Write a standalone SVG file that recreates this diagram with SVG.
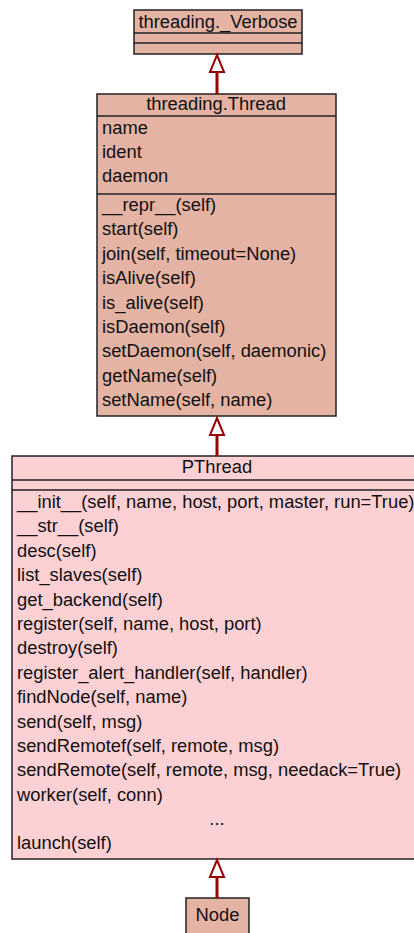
<svg xmlns="http://www.w3.org/2000/svg" width="414" height="933" viewBox="0 0 414 933">
<style>
.box{stroke:#222;stroke-width:1.5}
.a{fill:#e4b3a4}
.b{fill:#fdd0d4}
.div{stroke:#222;stroke-width:1.5}
text{font-family:"Liberation Sans",Arial,sans-serif;font-size:18.35px;fill:#111}
.c{text-anchor:middle}
.edge{stroke:#990000;stroke-width:3;fill:none}
.head{stroke:#990000;stroke-width:2;fill:#fff}
</style>
<rect width="414" height="933" fill="#fff"/>
<g id="verbose">
<rect class="box a" x="134" y="10" width="168" height="44"/>
<line class="div" x1="134" y1="33" x2="302" y2="33"/>
<line class="div" x1="134" y1="43" x2="302" y2="43"/>
<text class="c" x="218" y="28">threading._Verbose</text>
</g>
<g id="thread">
<rect class="box a" x="97" y="94" width="239" height="322"/>
<line class="div" x1="97" y1="116" x2="336" y2="116"/>
<line class="div" x1="97" y1="194" x2="336" y2="194"/>
<text class="c" x="216" y="110">threading.Thread</text>
<text x="102" y="134">name</text>
<text x="102" y="158">ident</text>
<text x="102" y="182">daemon</text>
<text x="102" y="211">__repr__(self)</text>
<text x="102" y="235">start(self)</text>
<text x="102" y="260">join(self, timeout=None)</text>
<text x="102" y="284">isAlive(self)</text>
<text x="102" y="309">is_alive(self)</text>
<text x="102" y="333">isDaemon(self)</text>
<text x="102" y="357">setDaemon(self, daemonic)</text>
<text x="102" y="382">getName(self)</text>
<text x="102" y="406">setName(self, name)</text>
</g>
<g id="pthread">
<rect class="box b" x="12" y="456" width="410" height="403"/>
<line class="div" x1="12" y1="480" x2="414" y2="480"/>
<line class="div" x1="12" y1="490" x2="414" y2="490"/>
<text class="c" x="217" y="473">PThread</text>
<text x="17" y="508">__init__(self, name, host, port, master, run=True)</text>
<text x="17" y="532">__str__(self)</text>
<text x="17" y="557">desc(self)</text>
<text x="17" y="581">list_slaves(self)</text>
<text x="17" y="606">get_backend(self)</text>
<text x="17" y="630">register(self, name, host, port)</text>
<text x="17" y="654">destroy(self)</text>
<text x="17" y="679">register_alert_handler(self, handler)</text>
<text x="17" y="703">findNode(self, name)</text>
<text x="17" y="728">send(self, msg)</text>
<text x="17" y="752">sendRemotef(self, remote, msg)</text>
<text x="17" y="776">sendRemote(self, remote, msg, needack=True)</text>
<text x="17" y="801">worker(self, conn)</text>
<text class="c" x="217" y="825">...</text>
<text x="17" y="849">launch(self)</text>
</g>
<g id="node">
<rect class="box a" x="186" y="898" width="63" height="44"/>
<text class="c" x="217.5" y="921">Node</text>
</g>
<g id="connectors">
<line class="edge" x1="217" y1="94" x2="217" y2="72"/>
<polygon class="head" points="217,55 210,72 224,72"/>
<line class="edge" x1="217" y1="456" x2="217" y2="435"/>
<polygon class="head" points="217,418 210,435 224,435"/>
<line class="edge" x1="217" y1="898" x2="217" y2="877"/>
<polygon class="head" points="217,860 210,877 224,877"/>
</g>
</svg>
